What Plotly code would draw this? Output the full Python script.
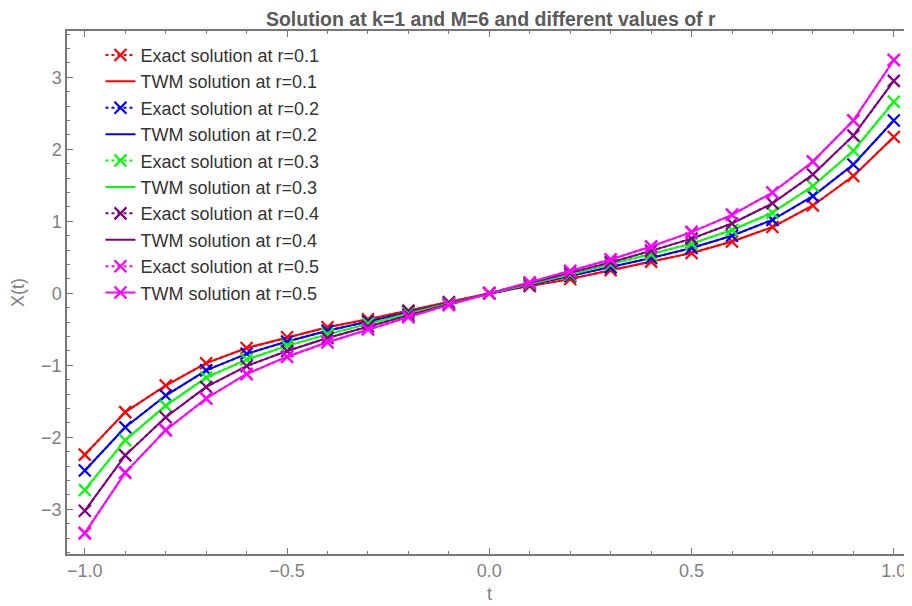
import plotly.graph_objects as go

t = [-1.0, -0.9, -0.8, -0.7, -0.6, -0.5, -0.4, -0.3, -0.2, -0.1, 0.0,
     0.1, 0.2, 0.3, 0.4, 0.5, 0.6, 0.7, 0.8, 0.9, 1.0]

r_values = ["0.1", "0.2", "0.3", "0.4", "0.5"]

exact_r01 = [-2.24, -1.65, -1.28, -0.97, -0.76, -0.61, -0.47, -0.36, -0.24, -0.12, 0.0,
             0.10, 0.20, 0.32, 0.44, 0.56, 0.72, 0.92, 1.22, 1.63, 2.17]
exact_r02 = [-2.46, -1.86, -1.42, -1.07, -0.84, -0.67, -0.52, -0.39, -0.26, -0.13, 0.0,
             0.12, 0.24, 0.36, 0.49, 0.63, 0.80, 1.02, 1.35, 1.79, 2.40]
exact_r03 = [-2.73, -2.04, -1.56, -1.17, -0.92, -0.73, -0.57, -0.42, -0.28, -0.14, 0.0,
             0.13, 0.26, 0.40, 0.54, 0.69, 0.88, 1.12, 1.49, 1.98, 2.66]
exact_r04 = [-3.02, -2.25, -1.72, -1.30, -1.01, -0.80, -0.62, -0.46, -0.30, -0.15, 0.0,
             0.14, 0.28, 0.43, 0.59, 0.76, 0.97, 1.25, 1.65, 2.19, 2.95]
exact_r05 = [-3.33, -2.49, -1.90, -1.46, -1.12, -0.88, -0.68, -0.50, -0.33, -0.16, 0.0,
             0.15, 0.31, 0.47, 0.65, 0.85, 1.09, 1.40, 1.83, 2.40, 3.24]

# TWM solution matches the exact one at the plotted resolution
twm_r01 = list(exact_r01)
twm_r02 = list(exact_r02)
twm_r03 = list(exact_r03)
twm_r04 = list(exact_r04)
twm_r05 = list(exact_r05)

exact = [exact_r01, exact_r02, exact_r03, exact_r04, exact_r05]
twm = [twm_r01, twm_r02, twm_r03, twm_r04, twm_r05]
colors = ["#FF0000", "#0000FF", "#00FF00", "#800080", "#FF00FF"]

fig = go.Figure()
for i, r in enumerate(r_values):
    c = colors[i]
    fig.add_trace(go.Scatter(
        x=t, y=exact[i], mode="lines+markers", name=f"Exact solution at r={r}",
        line=dict(color=c, width=2, dash="dot"),
        marker=dict(symbol="x-thin", size=12, line=dict(color=c, width=2.2))))
    twm_mode = "lines+markers" if i == 4 else "lines"
    fig.add_trace(go.Scatter(
        x=t, y=twm[i], mode=twm_mode, name=f"TWM solution at r={r}",
        line=dict(color=c, width=2),
        marker=dict(symbol="x-thin", size=12, line=dict(color=c, width=2.2))))

axis_font = dict(family="Liberation Sans, Arial", size=18, color="#808080")

# page body has an 8px margin, so the figure is sized to fit the 912x606 window
fig.update_layout(
    width=904, height=598,
    margin=dict(l=59, r=0, t=23, b=52),
    plot_bgcolor="white", paper_bgcolor="white",
    title=dict(text="<b>Solution at k=1 and M=6 and different values of r</b>",
               x=0.534, xanchor="center", y=0.992, yanchor="top",
               font=dict(family="Liberation Sans, Arial", size=19.5, color="#5a5a5a")),
    font=dict(family="Liberation Sans, Arial"),
    legend=dict(x=0.0396, y=0.989, xanchor="left", yanchor="top",
                bgcolor="rgba(255,255,255,0)", traceorder="normal",
                font=dict(family="Liberation Sans, Arial", size=18, color="#333333")),
    xaxis=dict(range=[-1.044, 1.045], tickvals=[-1.0, -0.5, 0.0, 0.5, 1.0],
               ticktext=["\u22121.0", "\u22120.5", "0.0", "0.5", "1.0"],
               ticks="inside", ticklen=6, tickwidth=1, tickcolor="#777777",
               minor=dict(dtick=0.1, tick0=0, ticks="inside", ticklen=3, tickcolor="#777777"),
               showline=True, linecolor="#777777", linewidth=1.5, mirror="ticks",
               showgrid=False, zeroline=False, tickfont=axis_font, automargin=False,
               ticklabeloverflow="allow",
               title=dict(text="t", font=axis_font, standoff=7)),
    yaxis=dict(range=[-3.62, 3.643], tickvals=[-3, -2, -1, 0, 1, 2, 3],
               ticktext=["\u22123", "\u22122", "\u22121", "0", "1", "2", "3"],
               ticks="inside", ticklen=6, tickwidth=1, tickcolor="#777777",
               minor=dict(dtick=0.2, tick0=0, ticks="inside", ticklen=3, tickcolor="#777777"),
               showline=True, linecolor="#777777", linewidth=1.5, mirror=False,
               showgrid=False, zeroline=False, tickfont=axis_font, automargin=False,
               title=dict(text="X(t)", font=axis_font, standoff=12)),
)

fig.write_html("out.html")
